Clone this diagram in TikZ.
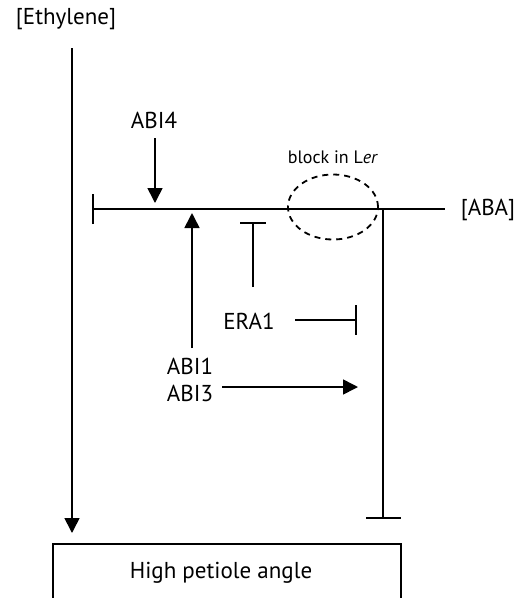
\documentclass[tikz,border=0pt]{standalone}
\usepackage{fontspec}
\setmainfont{PT Sans}
\usetikzlibrary{arrows.meta,shapes.geometric}
\begin{document}
\begin{tikzpicture}[x=1pt,y=-1pt,
  ln/.style={line width=1.6pt},
  tri/.style={ln,-{Triangle[width=15pt,length=15pt]}},
  lbl/.style={inner sep=0pt,font=\fontsize{23}{27}\selectfont},
  small/.style={inner sep=0pt,font=\fontsize{18}{21}\selectfont}]
\useasboundingbox (0,0) rectangle (528,598);
\clip (0,0) rectangle (528,598);
% labels
\node[lbl] (eth) at (66,19) {[Ethylene]};
\node[lbl] (aba) at (488,210) {[ABA]};
\node[lbl] (abi4) at (154,120) {ABI4};
\node[lbl] (abi1) at (190,366) {ABI1};
\node[lbl] (abi3) at (190,393) {ABI3};
\node[lbl] (era1) at (249,321) {ERA1};
\node[small] (blk) at (333,157) {block in L\textit{er}};
% coordinates
\coordinate (e0) at (72,48);
\coordinate (e1) at (72,533);
\coordinate (h0) at (92,209);
\coordinate (h1) at (445,209);
\coordinate (a4s) at (155,138);
\coordinate (a4e) at (155,203);
\coordinate (a1s) at (192,348);
\coordinate (a1e) at (192,213);
\coordinate (ts) at (253,287);
\coordinate (te) at (253,222);
\coordinate (ra) at (295,320);
\coordinate (rb) at (357,320);
\coordinate (a3s) at (222,387);
\coordinate (a3e) at (358,387);
\coordinate (vs) at (383,209);
\coordinate (ve) at (383,519);
% ethylene arrow
\draw[tri] (e0) -- (e1);
% ABA line with left bar
\draw[ln,{Bar[width=30pt]}-] (h0) -- (h1);
% ABI4
\draw[tri] (a4s) -- (a4e);
% ABI1 up
\draw[tri] (a1s) -- (a1e);
% T block
\draw[ln,-{Bar[width=26pt]}] (ts) -- (te);
% ERA1 block
\draw[ln,-{Bar[width=30pt]}] (ra) -- (rb);
% ABI3 arrow
\draw[tri] (a3s) -- (a3e);
% right vertical block
\draw[ln,-{Bar[width=35pt]}] (vs) -- (ve);
% dashed ellipse
\node[draw,ellipse,line width=1.8pt,dash pattern=on 6pt off 5pt,minimum width=90pt,minimum height=65pt,inner sep=0pt] (ell) at (333,207) {};
% box
\node[draw,line width=2.2pt,minimum width=348pt,minimum height=80pt,anchor=north west,inner sep=0pt] (box) at (52,543) {};
\node[lbl] (hpa) at (221,573) {High petiole angle};
\end{tikzpicture}
\end{document}
